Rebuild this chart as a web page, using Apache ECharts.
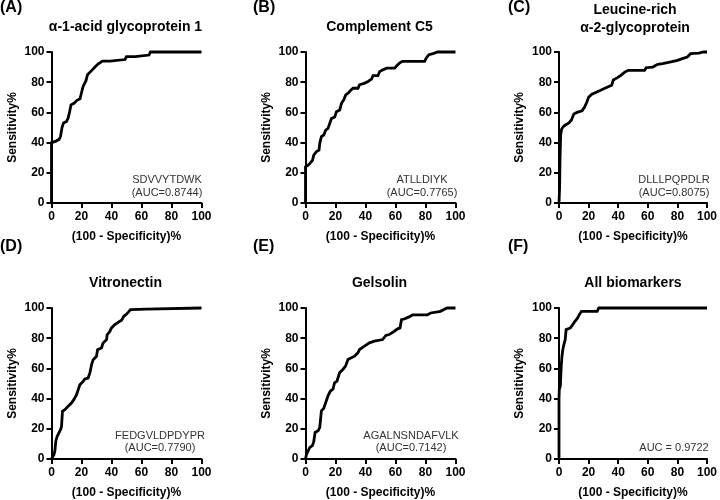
<!DOCTYPE html>
<html>
<head>
<meta charset="utf-8">
<script src="https://cdn.jsdelivr.net/npm/echarts@6/dist/echarts.min.js"></script>
<style>html,body{margin:0;padding:0;background:#fff;}#c{width:720px;height:500px;}</style>
</head>
<body>
<div id="c"></div>
<script>
// ---- data ----
var xTicks = [0, 20, 40, 60, 80, 100];
var panelLetters = ['(A)', '(B)', '(C)', '(D)', '(E)', '(F)'];
var panelTitles = ['\u03b1-1-acid glycoprotein 1', 'Complement C5', 'Leucine-rich\n\u03b1-2-glycoprotein', 'Vitronectin', 'Gelsolin', 'All biomarkers'];
var peptides = ['SDVVYTDWK', 'ATLLDIYK', 'DLLLPQPDLR', 'FEDGVLDPDYPR', 'AGALNSNDAFVLK', ''];
var aucTexts = ['(AUC=0.8744)', '(AUC=0.7765)', '(AUC=0.8075)', '(AUC=0.7790)', '(AUC=0.7142)', 'AUC = 0.9722'];

var aX = [0,0,0,1,3,5,6,7,8,10,11,12,13,15,16,17,19,20,21,22,23,24,25,27,29,31,34,39,40,49,50,56,57,65,66,100];
var aY = [0,30,40,40,41,42,44,50,53,54,56,60,65,66,66,68,69,73,77,79,81,85,86,88,90,92,94,94,95,95,97,97,98,98,100,100];

var bX = [0,0,0.7,1.8,3.3,4.7,5.5,7.3,9,9.5,10.6,12.2,13.5,15,16.2,17.3,19.5,20.6,22.8,24,25.5,26.8,28.4,30,31.7,35,36,39.5,41.7,44,45,48.3,49.4,51.2,54,59.4,61,62.7,64.5,79.4,80.5,82.3,85,88,100];
var bY = [0,24,24,25,26.6,28.4,31.7,34,35,39.5,44,45,48.3,49.4,52.8,56,57,60.5,61.6,66,68.3,71.6,72.7,74.5,76,76,78.3,79.4,80.5,82,84.3,84.3,87,88,89.3,89.3,91,92.7,93.8,93.8,96,98.2,98.9,100,100];

var cX = [0,0.4,0.7,1.1,1.8,3.3,4.9,6.7,8.4,10,12.2,15.6,17.3,18.9,20,22.2,24.4,27.8,31,35.6,36.7,39.5,41.8,44.4,46.7,57.8,58.9,63.3,66.7,70,75.6,80,83.3,86.7,88.9,94.4,97.8,100];
var cY = [0,10,30,45,49,51,52,53,55,59,60,61,63.5,67,70,72,73,74.5,76,78,81.5,83,84.5,86.7,87.8,87.8,89.6,90,91.8,92.3,93.4,94.5,95.6,96.7,98.9,99.3,100,100];

var dX = [0,0.7,1.6,2.2,2.9,3.8,5.1,6,6.7,7.3,8.9,11.1,13.3,14.9,16.7,17.8,18.9,21.1,22.2,24.4,25.6,26.7,27.8,30,30.7,33.3,34.4,36.7,37.1,38.9,40,42.2,44.4,46.7,48.2,49.6,51.1,52.7,63.3,64.4,100];
var dY = [0,1.3,2.9,5,12,15,15.5,19.4,21.6,31.6,32.7,34.9,37,39.3,42.6,45.9,49.2,51.4,53,53.6,57,62.5,65.8,68,72.4,73.5,76.8,79,82.3,84.5,86.8,89,90.5,91.9,94.5,95.6,97.1,98.9,99.3,100,100];

var eX = [0,0.7,1.8,2.9,4.6,5.5,6.4,8.4,9.5,10.6,12.1,13.5,15,16.6,18.3,19.4,21,22.7,24.9,26.7,28.3,29.4,32.7,34.9,36,39.3,42.6,45.9,51.4,53.6,55.8,59.2,61.4,63,64,65.8,69.1,71.3,81.2,83.4,90,92.9,94.5,100];
var eY = [0,3.3,4.4,7.7,8.8,11.4,17.6,18.7,20.9,31.9,33.4,37.4,41.8,45,46.2,50.5,51.6,57.1,59.3,61.5,65.9,67,68.1,70.3,72.5,74.7,76.9,78,79.1,81.8,82.4,84.6,86.2,86.8,92.3,92.7,94.1,95.4,95.4,96.7,97.8,99.3,100,100];

var fX = [0,0,0.2,0.9,1.5,2,2.6,3.3,4.2,4.8,5.9,7.7,9.3,10.8,12.6,13.7,15.2,25.8,26.9,100];
var fY = [0,40,46,48.4,61.5,68,72.5,75.8,79,85.7,86.8,86.8,89,91.2,93.4,95.6,97.8,97.8,100,100];

var seriesX = [aX, bX, cX, dX, eX, fX];
var seriesY = [aY, bY, cY, dY, eY, fY];

// ---- layout ----
var FONT = '"Liberation Sans", Arial, Helvetica, sans-serif';
var lefts = [51.5, 305.5, 559];
var tops = [52, 308];
var W = 150, H = 151;
var annoX = [167, 422, 674, 160, 411, 674];

var grids = [], xAxes = [], yAxes = [], series = [], graphics = [];
for (var i = 0; i < 6; i++) {
  var col = i % 3, row = Math.floor(i / 3);
  var L = lefts[col], T = tops[row];
  grids.push({left: L, top: T, width: W, height: H, containLabel: false});
  var axisCommon = {
    type: 'value', min: 0, max: 100, interval: 20,
    axisLine: {show: true, lineStyle: {color: '#000', width: 2}},
    axisTick: {show: true, inside: false, length: 5, lineStyle: {color: '#000', width: 2}},
    splitLine: {show: false},
    axisLabel: {color: '#000', fontFamily: FONT, fontWeight: 'bold', fontSize: 12},
    nameTextStyle: {color: '#000', fontFamily: FONT, fontWeight: 'bold', fontSize: 12}
  };
  xAxes.push(Object.assign({}, axisCommon, {
    gridIndex: i, name: '(100 - Specificity)%', nameLocation: 'middle', nameGap: 28,
    axisLabel: Object.assign({}, axisCommon.axisLabel, {margin: 8})
  }));
  yAxes.push(Object.assign({}, axisCommon, {
    gridIndex: i, name: 'Sensitivity%', nameLocation: 'middle', nameGap: 33, nameRotate: 90,
    axisLabel: Object.assign({}, axisCommon.axisLabel, {margin: 7})
  }));
  var pts = [];
  for (var k = 0; k < seriesX[i].length; k++) pts.push([seriesX[i][k], seriesY[i][k]]);
  series.push({
    type: 'line', xAxisIndex: i, yAxisIndex: i, data: pts,
    showSymbol: false, symbol: 'none', clip: false, animation: false,
    lineStyle: {color: '#000', width: 2.8, join: 'miter'}
  });
  // panel letter
  graphics.push({type: 'text', x: [0, 253, 508][col], y: [8, 247][row],
    style: {text: panelLetters[i], font: 'bold 16px ' + FONT, fill: '#000', textAlign: 'left', textVerticalAlign: 'middle'}});
  // titles
  var cx = L + W / 2 - 1;
  if (i === 2) {
    graphics.push({type: 'text', x: 635, y: 10, style: {text: 'Leucine-rich', font: 'bold 14px ' + FONT, fill: '#000', textAlign: 'center', textVerticalAlign: 'middle'}});
    graphics.push({type: 'text', x: 635, y: 28, style: {text: '\u03b1-2-glycoprotein', font: 'bold 14px ' + FONT, fill: '#000', textAlign: 'center', textVerticalAlign: 'middle'}});
  } else {
    graphics.push({type: 'text', x: cx, y: row === 0 ? 27 : 283,
      style: {text: panelTitles[i], font: 'bold 14px ' + FONT, fill: '#000', textAlign: 'center', textVerticalAlign: 'middle'}});
  }
  // annotations
  var ax = annoX[i];
  if (peptides[i]) {
    graphics.push({type: 'text', x: ax, y: T + (row === 0 ? 128 : 127.5),
      style: {text: peptides[i], font: '11px ' + FONT, fill: '#333', textAlign: 'center', textVerticalAlign: 'middle'}});
    graphics.push({type: 'text', x: ax, y: T + (row === 0 ? 141 : 140),
      style: {text: aucTexts[i], font: '11px ' + FONT, fill: '#333', textAlign: 'center', textVerticalAlign: 'middle'}});
  } else {
    graphics.push({type: 'text', x: ax, y: T + 140,
      style: {text: aucTexts[i], font: '11px ' + FONT, fill: '#333', textAlign: 'center', textVerticalAlign: 'middle'}});
  }
}

var chart = echarts.init(document.getElementById('c'), null, {renderer: 'canvas'});
chart.setOption({
  backgroundColor: '#fff',
  animation: false,
  grid: grids, xAxis: xAxes, yAxis: yAxes, series: series, graphic: graphics
});
</script>
</body>
</html>
